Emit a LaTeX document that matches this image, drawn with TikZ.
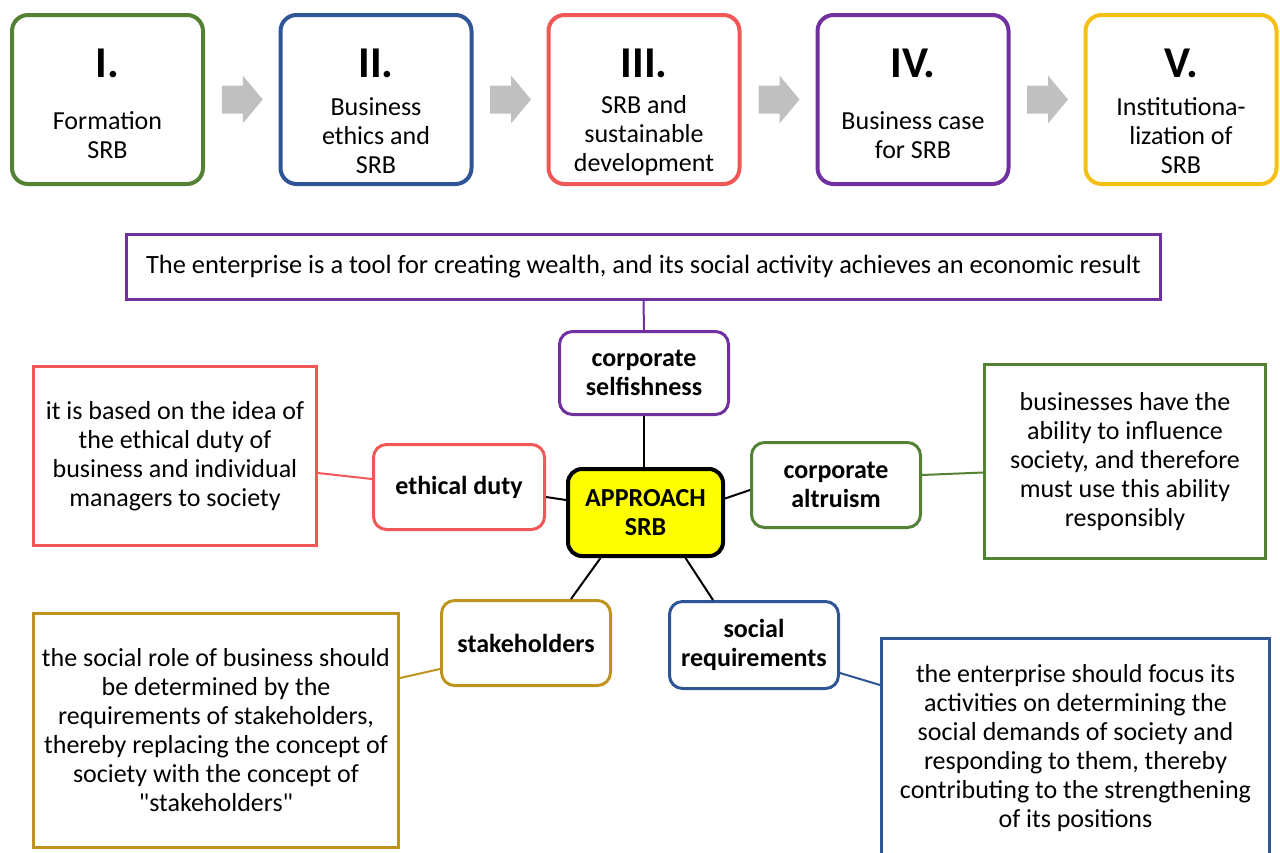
\documentclass[tikz,border=0pt]{standalone}
\usepackage{fontspec}
\setmainfont{Carlito}[Ligatures=TeXOff]
\definecolor{cgreen}{RGB}{84,130,53}
\definecolor{cblue}{RGB}{47,85,151}
\definecolor{cred}{RGB}{240,88,88}
\definecolor{cpurple}{RGB}{112,48,160}
\definecolor{cyellowgold}{RGB}{245,192,20}
\definecolor{cgold}{RGB}{191,148,30}
\definecolor{agray}{RGB}{192,192,192}
\definecolor{cyel}{RGB}{255,255,0}
\begin{document}
\begin{tikzpicture}[x=1pt,y=-1pt,
  topbox/.style={draw, line width=4pt, rounded corners=16pt, minimum width=191pt, minimum height=169pt, inner sep=0pt},
  numtxt/.style={font=\fontsize{44}{48}\selectfont\bfseries, inner sep=0pt},
  toptxt/.style={align=center, font=\fontsize{26}{29}\selectfont, inner sep=0pt},
  keybox/.style={draw, line width=3pt, rounded corners=13pt, align=center, font=\fontsize{26}{29}\selectfont\bfseries, inner sep=0pt},
  descbox/.style={draw, line width=3pt, align=center, font=\fontsize{26}{29}\selectfont, inner sep=0pt},
  conn/.style={line width=2pt},
  blockarrow/.style={fill=agray}
]
\useasboundingbox (0,0) rectangle (1280,852);

% top row
\node[topbox, draw=cgreen] (b1) at (107.5,99.5) {};
\node[topbox, draw=cblue] (b2) at (376,99.5) {};
\node[topbox, draw=cred] (b3) at (644,99.5) {};
\node[topbox, draw=cpurple] (b4) at (913,99.5) {};
\node[topbox, draw=cyellowgold] (b5) at (1181,99.5) {};

\node[numtxt] (n1) at ([yshift=36.5pt]b1.center) {I.};
\node[numtxt] (n2) at ([yshift=36.5pt]b2.center) {II.};
\node[numtxt] (n3) at ([yshift=36.5pt]b3.center) {III.};
\node[numtxt] (n4) at ([yshift=36.5pt]b4.center) {IV.};
\node[numtxt] (n5) at ([yshift=36.5pt]b5.center) {V.};

\node[toptxt] (t1) at ([yshift=-36pt]b1.center) {Formation\\SRB};
\node[toptxt] (t2) at ([yshift=-36pt]b2.center) {Business\\ethics and\\SRB};
\node[toptxt] (t3) at ([yshift=-36pt]b3.center) {SRB and\\sustainable\\development};
\node[toptxt] (t4) at ([yshift=-36pt]b4.center) {Business case\\for SRB};
\node[toptxt] (t5) at ([yshift=-36pt]b5.center) {Institutiona-\\lization of\\SRB};

% gray block arrows
\foreach \a/\b/\n in {b1/b2/1, b2/b3/2, b3/b4/3, b4/b5/4}{
  \path (\a.east) -- (\b.west) coordinate[midway] (m\n);
  \fill[blockarrow] ([shift={(-20,-14)}]m\n) -- ([shift={(1,-14)}]m\n) -- ([shift={(1,-24)}]m\n)
     -- ([shift={(21,0)}]m\n) -- ([shift={(1,24)}]m\n) -- ([shift={(1,14)}]m\n)
     -- ([shift={(-20,14)}]m\n) -- cycle;
}

% statement
\node[descbox, draw=cpurple, minimum width=1034pt, minimum height=65pt,
  font=\fontsize{26.4}{29}\selectfont] (stmt) at (643.5,267)
  {The enterprise is a tool for creating wealth, and its social activity achieves an economic result};

% key nodes
\node[keybox, draw=cpurple, minimum width=169pt, minimum height=83pt] (selfish) at (644,373) {corporate\\selfishness};
\node[keybox, draw=black, fill=cyel, line width=4pt, rounded corners=14pt, minimum width=155pt, minimum height=87pt] (approach) at (645.5,512.5) {APPROACH\\SRB};
\node[keybox, draw=cred, minimum width=171pt, minimum height=85pt] (ethical) at (459,487) {ethical duty};
\node[keybox, draw=cgreen, minimum width=169pt, minimum height=85pt] (altruism) at (836,485) {corporate\\altruism};
\node[keybox, draw=cgold, minimum width=169pt, minimum height=85pt] (stake) at (526,643) {stakeholders};
\node[keybox, draw=cblue, minimum width=169pt, minimum height=87pt] (social) at (754,645) {social\\requirements};

% description boxes
\node[descbox, draw=cred, minimum width=283pt, minimum height=179pt] (dethical) at (175,456)
  {it is based on the idea of\\the ethical duty of\\business and individual\\managers to society};
\node[descbox, draw=cgreen, minimum width=281pt, minimum height=194pt] (daltruism) at (1125,461.5)
  {businesses have the\\ability to influence\\society, and therefore\\must use this ability\\responsibly};
\node[descbox, draw=cgold, minimum width=365pt, minimum height=234pt] (dstake) at (216,730.5)
  {the social role of business should\\be determined by the\\requirements of stakeholders,\\thereby replacing the concept of\\society with the concept of\\"stakeholders"};
\node[descbox, draw=cblue, minimum width=388pt, minimum height=220pt] (dsocial) at (1075.5,748.5)
  {the enterprise should focus its\\activities on determining the\\social demands of society and\\responding to them, thereby\\contributing to the strengthening\\of its positions};

% connectors
\draw[conn, cpurple] (stmt.south) -- (selfish.north);
\draw[conn] (selfish.south) -- ([xshift=-1.5pt]approach.north);
\draw[conn] ([yshift=-10pt]ethical.east) -- ([yshift=12.5pt]approach.west);
\draw[conn] ([yshift=14pt]approach.east) -- ([yshift=-5pt]altruism.west);
\draw[conn, cred] ([yshift=-17pt]dethical.east) -- ([yshift=8pt]ethical.west);
\draw[conn, cgreen] ([yshift=10pt]altruism.east) -- ([yshift=-11pt]daltruism.west);
\draw[conn] ([xshift=-45pt]approach.south) -- ([xshift=45pt]stake.north);
\draw[conn] ([xshift=40pt]approach.south) -- ([xshift=-41pt]social.north);
\draw[conn, cgold] ([yshift=52.5pt]dstake.east) -- ([yshift=-26pt]stake.west);
\draw[conn, cblue] ([yshift=63.5pt]dsocial.west) -- ([yshift=-28pt]social.east);
\end{tikzpicture}
\end{document}
